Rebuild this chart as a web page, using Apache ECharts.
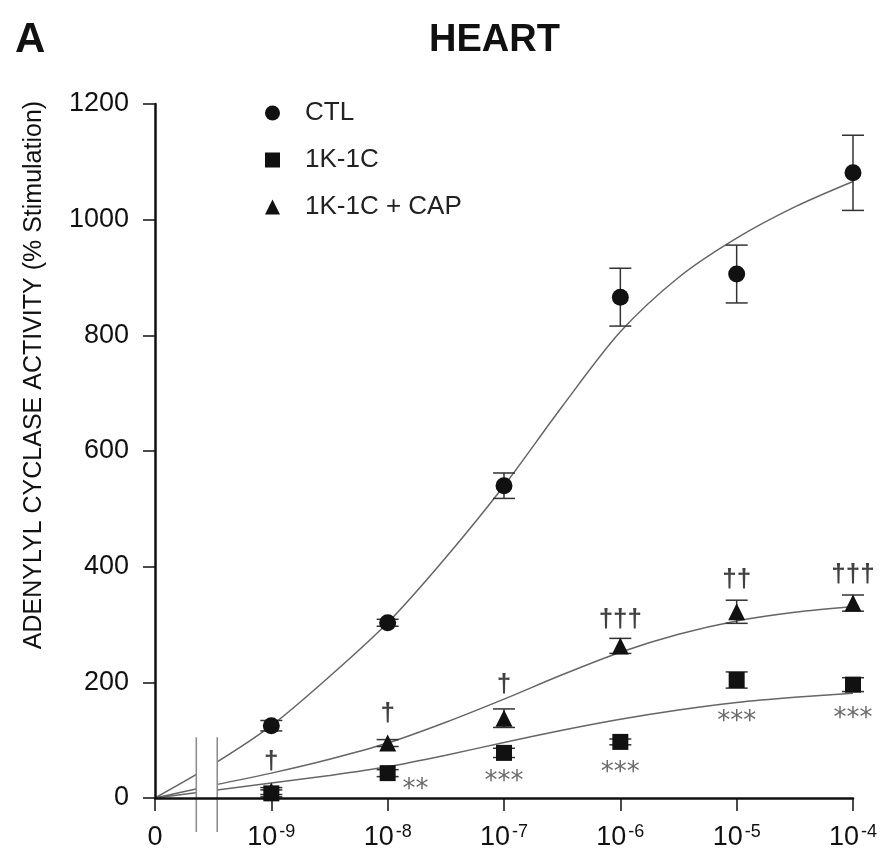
<!DOCTYPE html>
<html>
<head>
<meta charset="utf-8">
<script src="https://cdn.jsdelivr.net/npm/echarts@6/dist/echarts.min.js"></script>
<style>
  html, body { margin: 0; padding: 0; background: #fff; }
  #chart { width: 888px; height: 853px; }
</style>
</head>
<body>
<div id="chart"></div>
<script>
// Dose positions on the x axis: 0 = no agonist, then 10^-9 ... 10^-4 M
const doseExponents = ['0', '-9', '-8', '-7', '-6', '-5', '-4'];
const dosePos = [1, 2, 3, 4, 5, 6];

// Mean adenylyl cyclase activity (% stimulation) and error (SEM)
const ctlMean = [125, 303, 540, 866, 906, 1081];
const ctlErr = [9, 6, 22, 50, 50, 65];
const ckMean = [8, 43, 78, 97, 204, 196];
const ckErr = [6, 6, 8, 5, 14, 12];
const capMean = [12, 95, 138, 263, 322, 337];
const capErr = [6, 6, 16, 13, 20, 14];

// Fitted dose-response curves, read at half-decade steps
const curvePos = [0, 0.5, 1, 1.5, 2, 2.5, 3, 3.5, 4, 4.5, 5, 5.5, 6];
const ctlCurve = [0, 58, 125, 210, 303, 416, 540, 677, 806, 900, 968, 1022, 1066];
const capCurve = [0, 22, 43, 67, 95, 131, 171, 213, 252, 283, 306, 321, 331];
const ckCurve = [0, 13, 26, 39, 54, 74, 96, 117, 136, 152, 165, 174, 181];

// Significance marks: † vs 1K-1C, * vs CTL
const daggerPos = [1, 2, 3, 4, 5, 6];
const daggerY = [62, 145, 195, 308, 377, 386];
const daggerText = ['†', '†', '†', '†††', '††', '†††'];
const starPos = [2.24, 3, 4, 5, 6];
const starY = [26, 40, 55, 143, 148];
const starText = ['**', '***', '***', '***', '***'];

const FONT = '"Liberation Sans", Arial, Helvetica, sans-serif';
const INK = '#111';

const zip = (xs, ys) => xs.map((x, i) => [x, ys[i]]);
const errData = (means, errs) => dosePos.map((x, i) => [x, means[i], errs[i]]);

function errorBar(params, api) {
  const x = api.value(0), m = api.value(1), e = api.value(2);
  const top = api.coord([x, m + e]);
  const bot = api.coord([x, m - e]);
  const half = 11;
  const style = { stroke: '#333', lineWidth: 1.5 };
  return {
    type: 'group',
    children: [
      { type: 'line', shape: { x1: top[0], y1: top[1], x2: bot[0], y2: bot[1] }, style },
      { type: 'line', shape: { x1: top[0] - half, y1: top[1], x2: top[0] + half, y2: top[1] }, style },
      { type: 'line', shape: { x1: bot[0] - half, y1: bot[1], x2: bot[0] + half, y2: bot[1] }, style }
    ]
  };
}

function curveSeries(name, values) {
  return {
    name: name + ' fit', type: 'line', data: zip(curvePos, values),
    smooth: 0.3, showSymbol: false, silent: true,
    lineStyle: { color: '#666', width: 1.5 }, z: 2
  };
}

function barsSeries(means, errs) {
  return { type: 'custom', renderItem: errorBar, data: errData(means, errs), silent: true, z: 3 };
}

function pointSeries(name, symbol, size, means) {
  return {
    name, type: 'scatter', symbol, symbolSize: size, data: zip(dosePos, means),
    itemStyle: { color: INK, opacity: 1 }, z: 4, silent: true
  };
}

function textSeries(xs, ys, texts, style, offset) {
  return {
    type: 'scatter', symbolSize: 0, silent: true, z: 5,
    data: xs.map((x, i) => [x, ys[i], texts[i]]),
    label: Object.assign({
      show: true, position: 'inside', offset: offset || [0, 0],
      formatter: p => p.data[2]
    }, style)
  };
}

const chart = echarts.init(document.getElementById('chart'), null, { renderer: 'canvas' });

chart.setOption({
  animation: false,
  backgroundColor: '#fff',
  title: [
    { text: 'A', left: 10, top: 14, textStyle: { fontFamily: FONT, fontSize: 42, fontWeight: 'bold', color: INK } },
    { text: 'HEART', left: 424, top: 17, textStyle: { fontFamily: FONT, fontSize: 38, fontWeight: 'bold', color: INK } }
  ],
  legend: {
    data: ['CTL', '1K-1C', '1K-1C + CAP'],
    orient: 'vertical', left: 260, top: 95,
    itemWidth: 15, itemHeight: 15, itemGap: 21,
    selectedMode: false,
    textStyle: { fontFamily: FONT, fontSize: 26, color: '#222', padding: [0, 0, 0, 20] }
  },
  grid: { left: 155, top: 104, right: 35, bottom: 55, containLabel: false },
  xAxis: {
    type: 'value', min: 0, max: 6, interval: 1, z: 10,
    axisLine: { lineStyle: { color: INK, width: 2.5 } },
    axisTick: { show: true, length: 13, lineStyle: { color: INK, width: 1.5 } },
    splitLine: { show: false },
    axisLabel: {
      margin: 25,
      formatter: v => v === 0 ? '{b|0}' : '{b|10}{s|' + doseExponents[v] + '}',
      rich: {
        b: { fontFamily: FONT, fontSize: 27, color: INK, lineHeight: 30 },
        s: { fontFamily: FONT, fontSize: 18, color: INK, verticalAlign: 'top', padding: [0, 0, 0, 2] }
      }
    }
  },
  yAxis: {
    type: 'value', min: 0, max: 1200, interval: 200, z: 10,
    name: 'ADENYLYL CYCLASE ACTIVITY (% Stimulation)',
    nameLocation: 'middle', nameGap: 108, nameRotate: 90,
    nameTextStyle: { fontFamily: FONT, fontSize: 25, color: INK, padding: [0, 0, 0, 152] },
    axisLine: { show: true, lineStyle: { color: INK, width: 2.5 } },
    axisTick: { show: true, length: 12, lineStyle: { color: INK, width: 1.5 } },
    splitLine: { show: false },
    axisLabel: { margin: 26, fontFamily: FONT, fontSize: 27, color: INK, formatter: v => String(v) }
  },
  series: [
    curveSeries('CTL', ctlCurve),
    curveSeries('1K-1C + CAP', capCurve),
    curveSeries('1K-1C', ckCurve),
    barsSeries(ctlMean, ctlErr),
    barsSeries(capMean, capErr),
    barsSeries(ckMean, ckErr),
    pointSeries('CTL', 'circle', 17, ctlMean),
    pointSeries('1K-1C + CAP', 'triangle', 17, capMean),
    pointSeries('1K-1C', 'rect', 16, ckMean),
    textSeries(daggerPos, daggerY, daggerText,
      { fontFamily: FONT, fontSize: 26, fontWeight: 'bold', color: INK }),
    textSeries(starPos, starY, starText,
      { fontFamily: '"DejaVu Sans", sans-serif', fontSize: 26, color: '#444' }, [0, 7])
  ]
});

// Axis break between the zero dose and 10^-9 M
const brkL = chart.convertToPixel({ gridIndex: 0 }, [0.355, 0]);
const brkR = chart.convertToPixel({ gridIndex: 0 }, [0.535, 0]);
const brkTop = chart.convertToPixel({ gridIndex: 0 }, [0, 105])[1];
const brkBot = brkL[1] + 34;
chart.setOption({
  graphic: [
    { type: 'rect', z: 6, shape: { x: brkL[0], y: brkTop, width: brkR[0] - brkL[0], height: brkBot - brkTop },
      style: { fill: '#fff' } },
    { type: 'line', z: 7, shape: { x1: brkL[0], y1: brkTop, x2: brkL[0], y2: brkBot },
      style: { stroke: '#888', lineWidth: 1.5 } },
    { type: 'line', z: 7, shape: { x1: brkR[0], y1: brkTop, x2: brkR[0], y2: brkBot },
      style: { stroke: '#888', lineWidth: 1.5 } }
  ]
});
</script>
</body>
</html>
